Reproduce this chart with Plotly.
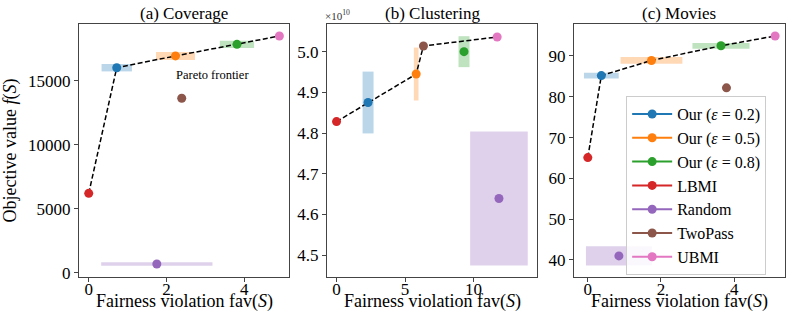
import plotly.graph_objects as go

# methods shown in every panel
methods = ["Our (<i>ε</i> = 0.2)", "Our (<i>ε</i> = 0.5)", "Our (<i>ε</i> = 0.8)",
           "LBMI", "Random", "TwoPass", "UBMI"]
colors = ["#1f77b4", "#ff7f0e", "#2ca02c", "#d62728", "#9467bd", "#8c564b", "#e377c2"]
band_colors = ["rgba(31,119,180,0.3)", "rgba(255,127,14,0.3)", "rgba(44,160,44,0.3)",
               None, "rgba(148,103,189,0.3)", None, None]

# (a) Coverage
cov_x = [0.72, 2.23, 3.81, 0.0, 1.75, 2.39, 4.9]
cov_y = [16040, 16960, 17870, 6210, 680, 13650, 18520]
cov_ex = [0.39, 0.5, 0.44, 0, 1.43, 0, 0]
cov_ey = [290, 315, 285, 0, 130, 0, 0]
cov_front = [3, 0, 1, 2, 6]

# (b) Clustering (values in units of 1e10)
clu_x = [2.3, 5.81, 9.3, 0.0, 11.85, 6.34, 11.72]
clu_y = [4.875, 4.945, 5.0, 4.828, 4.639, 5.014, 5.036]
clu_ex = [0.4, 0.17, 0.4, 0, 2.1, 0, 0]
clu_ey = [0.076, 0.065, 0.038, 0, 0.165, 0, 0]
clu_front = [3, 0, 1, 5, 6]

# (c) Movies
mov_x = [0.37, 1.74, 3.64, 0.0, 0.85, 3.79, 5.12]
mov_y = [85.2, 88.9, 92.5, 65.1, 41.0, 82.2, 94.9]
mov_ex = [0.475, 0.845, 0.78, 0, 0.9, 0, 0]
mov_ey = [0.7, 0.83, 0.7, 0, 2.35, 0, 0]
mov_front = [3, 0, 1, 2, 6]

panels = [
    ("(a) Coverage", cov_x, cov_y, cov_ex, cov_ey, cov_front),
    ("(b) Clustering", clu_x, clu_y, clu_ex, clu_ey, clu_front),
    ("(c) Movies", mov_x, mov_y, mov_ex, mov_ey, mov_front),
]

FONT = "Liberation Serif, Times New Roman, serif"
fig = go.Figure()
shapes = []

for p, (title, xs, ys, exs, eys, front) in enumerate(panels):
    sfx = "" if p == 0 else str(p + 1)
    xref, yref = "x" + sfx, "y" + sfx

    # std bands
    for i in range(len(methods)):
        if band_colors[i] is None:
            continue
        shapes.append(dict(
            type="rect", xref=xref, yref=yref, layer="below", line_width=0,
            x0=xs[i] - exs[i], x1=xs[i] + exs[i],
            y0=ys[i] - eys[i], y1=ys[i] + eys[i],
            fillcolor=band_colors[i]
        ))

    # pareto frontier
    fig.add_trace(go.Scatter(
        x=[xs[i] for i in front], y=[ys[i] for i in front],
        mode="lines", line={"color": "black", "width": 1.5, "dash": "5px,2.5px"},
        showlegend=False, xaxis=xref, yaxis=yref, hoverinfo="skip"
    ))

    for i, name in enumerate(methods):
        fig.add_trace(go.Scatter(
            x=[xs[i]], y=[ys[i]], mode="lines+markers", name=name,
            marker={"color": colors[i], "size": 9},
            line={"color": colors[i], "width": 2},
            legendgroup=name, showlegend=(p == 2),
            xaxis=xref, yaxis=yref
        ))

axis_common = dict(
    showline=True, mirror=True, linecolor="#444", linewidth=1,
    ticks="outside", ticklen=4, tickcolor="#444", showgrid=False, zeroline=False,
    tickfont={"size": 17, "family": FONT, "color": "black"},
)

doms = [(0.0, 0.2976), (0.3512, 0.6488), (0.701, 1.0)]
layout = dict(
    width=793, height=327,
    margin={"l": 77, "r": 7, "t": 24, "b": 50},
    paper_bgcolor="white", plot_bgcolor="white",
    font={"family": FONT, "color": "black"},
    shapes=shapes,
    legend=dict(
        x=0.775, y=0.715, xanchor="left", yanchor="top",
        bgcolor="rgba(255,255,255,0.85)", bordercolor="#ccc", borderwidth=1,
        font={"size": 16, "family": FONT}, tracegroupgap=0, itemwidth=40,
    ),
)
layout["xaxis"] = dict(axis_common, domain=doms[0], anchor="y", range=[-0.25, 5.15],
                       tickvals=[0, 2, 4], ticklabelstandoff=-7)
layout["yaxis"] = dict(axis_common, domain=[0, 1], anchor="x", range=[-340, 19460],
                       tickvals=[0, 5000, 10000, 15000], tickformat="d",
                       title=dict(text="Objective value <i>f</i>(<i>S</i>)",
                                  font={"size": 18, "family": FONT}, standoff=8))
layout["xaxis2"] = dict(axis_common, domain=doms[1], anchor="y2", range=[-0.7, 14.63],
                        tickvals=[0, 5, 10], ticklabelstandoff=-7)
layout["yaxis2"] = dict(axis_common, domain=[0, 1], anchor="x2", range=[4.446, 5.068],
                        tickvals=[4.5, 4.6, 4.7, 4.8, 4.9, 5.0], tickformat=".1f")
layout["xaxis3"] = dict(axis_common, domain=doms[2], anchor="y3", range=[-0.38, 5.39],
                        tickvals=[0, 2, 4], ticklabelstandoff=-7)
layout["yaxis3"] = dict(axis_common, domain=[0, 1], anchor="x3", range=[35.83, 97.84],
                        tickvals=[40, 50, 60, 70, 80, 90])

annotations = []
for p, (title, *_rest) in enumerate(panels):
    mid = (doms[p][0] + doms[p][1]) / 2
    annotations.append(dict(
        text=title, x=mid, y=1.0, xref="paper", yref="paper",
        xanchor="center", yanchor="bottom", showarrow=False, yshift=-1.5,
        font={"size": 17, "family": FONT}
    ))
    annotations.append(dict(
        text="Fairness violation fav(<i>S</i>)", x=mid, y=0, xref="paper", yref="paper",
        xanchor="center", yanchor="middle", showarrow=False, yshift=-24,
        font={"size": 18, "family": FONT}
    ))
annotations.append(dict(
    text="Pareto frontier", x=2.2, y=15500, xref="x", yref="y", xanchor="left",
    showarrow=False, font={"size": 12.5, "family": FONT}
))
annotations.append(dict(
    text="×10<sup>10</sup>", x=doms[1][0], y=1.0, xref="paper", yref="paper",
    xanchor="left", yanchor="bottom", showarrow=False, xshift=-4, yshift=0,
    font={"size": 11, "family": FONT, "color": "#333"}
))
layout["annotations"] = annotations

fig.update_layout(**layout)
# drop the default 8px page margin so the figure fills the window exactly
fig.write_html("out.html", config={"displayModeBar": False},
               post_script="document.body.style.margin = '0px';")
